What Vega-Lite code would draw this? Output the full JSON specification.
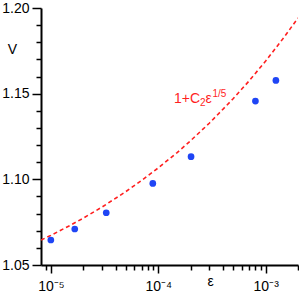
{
  "$schema": "https://vega.github.io/schema/vega-lite/v6.json",
  "width": 257,
  "height": 257,
  "autosize": {"type": "none"},
  "padding": {"left": 41, "top": 8, "right": 1, "bottom": 29},
  "background": "white",
  "config": {
    "view": {"stroke": null},
    "axis": {
      "grid": false,
      "domainColor": "black",
      "domainWidth": 2,
      "tickColor": "black",
      "tickWidth": 1.5,
      "labelColor": "black",
      "labelFont": "Liberation Sans",
      "labelFontSize": 14,
      "titleFont": "Liberation Sans",
      "titleFontSize": 14,
      "titleFontWeight": "normal",
      "titleColor": "black"
    }
  },
  "datasets": {
    "pts": [
      {"eps": 0.00001, "V": 1.0646},
      {"eps": 0.0000167, "V": 1.0710},
      {"eps": 0.0000328, "V": 1.0805},
      {"eps": 0.000089, "V": 1.0976},
      {"eps": 0.000202, "V": 1.1132},
      {"eps": 0.000803, "V": 1.1457},
      {"eps": 0.001245, "V": 1.1577}
    ],
    "curve": [
      {"eps": 0.0000081, "V": 1.06453},
      {"eps": 0.00001, "V": 1.0673},
      {"eps": 0.000015, "V": 1.07299},
      {"eps": 0.00002, "V": 1.07731},
      {"eps": 0.00003, "V": 1.08384},
      {"eps": 0.00005, "V": 1.09285},
      {"eps": 0.00007, "V": 1.09937},
      {"eps": 0.0001, "V": 1.10666},
      {"eps": 0.00015, "V": 1.11565},
      {"eps": 0.0002, "V": 1.12253},
      {"eps": 0.0003, "V": 1.13287},
      {"eps": 0.0005, "V": 1.14716},
      {"eps": 0.0007, "V": 1.15739},
      {"eps": 0.001, "V": 1.16905},
      {"eps": 0.0015, "V": 1.18332},
      {"eps": 0.002, "V": 1.19419}
    ],
    "lbl": [
      {"eps": 0.00014, "V": 1.1447}
    ]
  },
  "encoding": {
    "x": {
      "field": "eps",
      "type": "quantitative",
      "scale": {"type": "log", "domain": [0.0000081, 0.002], "nice": false},
      "axis": {
        "title": "ε",
        "titleX": 169,
        "titleY": 20,
        "titleAnchor": null,
        "titleAlign": "center",
        "titleBaseline": "alphabetic",
        "values": [0.000009, 0.00001, 0.00002, 0.00003, 0.00004, 0.00005, 0.00006, 0.00007, 0.00008, 0.00009, 0.0001, 0.0002, 0.0003, 0.0004, 0.0005, 0.0006, 0.0007, 0.0008, 0.0009, 0.001, 0.002],
        "labelExpr": "datum.value == 0.00001 ? '10⁻⁵' : datum.value == 0.0001 ? '10⁻⁴' : datum.value == 0.001 ? '10⁻³' : ''",
        "labelPadding": 6,
        "labelFlush": false,
        "labelOverlap": false,
        "tickSize": {"condition": {"test": "datum.value == 0.00001 || datum.value == 0.0001 || datum.value == 0.001", "value": 8}, "value": 5}
      }
    },
    "y": {
      "field": "V",
      "type": "quantitative",
      "scale": {"domain": [1.05, 1.2], "nice": false, "zero": false},
      "axis": {
        "title": "V",
        "titleAngle": 0,
        "titleX": -29,
        "titleY": 41,
        "titleAlign": "center",
        "titleBaseline": "middle",
        "values": [1.05, 1.06, 1.07, 1.08, 1.09, 1.1, 1.11, 1.12, 1.13, 1.14, 1.15, 1.16, 1.17, 1.18, 1.19, 1.2],
        "labelExpr": "round(datum.value * 100) % 5 == 0 ? format(datum.value, '.2f') : ''",
        "labelPadding": 3,
        "labelFlush": false,
        "labelOverlap": false,
        "tickSize": {"condition": {"test": "round(datum.value * 100) % 5 == 0", "value": 9}, "value": 5}
      }
    }
  },
  "layer": [
    {
      "data": {"name": "curve"},
      "mark": {"type": "line", "color": "#ff1f1f", "strokeWidth": 1.6, "strokeDash": [4, 3], "clip": true}
    },
    {
      "data": {"name": "pts"},
      "mark": {"type": "point", "filled": true, "color": "#1f45f5", "opacity": 1, "size": 45}
    },
    {
      "data": {"name": "lbl"},
      "mark": {"type": "text", "text": "1+C", "align": "left", "baseline": "alphabetic", "font": "Liberation Sans", "fontSize": 14, "color": "#ff1f1f"}
    },
    {
      "data": {"name": "lbl"},
      "mark": {"type": "text", "text": "2", "align": "left", "baseline": "alphabetic", "font": "Liberation Sans", "fontSize": 10, "dx": 26, "dy": 3, "color": "#ff1f1f"}
    },
    {
      "data": {"name": "lbl"},
      "mark": {"type": "text", "text": "ε", "align": "left", "baseline": "alphabetic", "font": "Liberation Sans", "fontSize": 14, "dx": 31.5, "color": "#ff1f1f"}
    },
    {
      "data": {"name": "lbl"},
      "mark": {"type": "text", "text": "1/5", "align": "left", "baseline": "alphabetic", "font": "Liberation Sans", "fontSize": 10, "dx": 38.5, "dy": -6, "color": "#ff1f1f"}
    }
  ]
}
